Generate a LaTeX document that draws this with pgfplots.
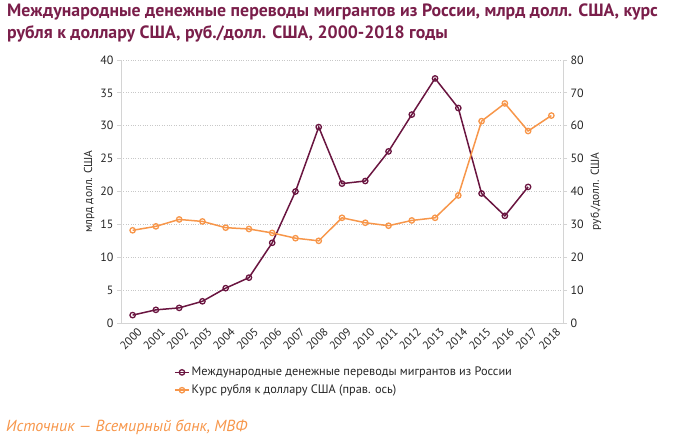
\documentclass[border=0pt]{standalone}
\usepackage{fontspec}
\setmainfont{PT Sans}
\usepackage{pgfplots}
\pgfplotsset{compat=1.18}
\definecolor{maroon}{HTML}{6A1540}
\definecolor{orng}{HTML}{F7964A}
\definecolor{titlec}{HTML}{7A1E4A}
\definecolor{gridc}{HTML}{C8C8C8}
\definecolor{axc}{HTML}{D4D4D4}
\definecolor{txt}{HTML}{262626}
\begin{document}
\begin{tikzpicture}[x=1pt,y=1pt]
\path[use as bounding box] (0,0) rectangle (680,-447);
\node[anchor=north west, align=left, text=titlec, font=\fontsize{17.8}{21.5}\selectfont\bfseries, inner sep=0pt] at (7,-4)
  {Международные денежные переводы мигрантов из России, млрд долл. США, курс\\рубля к доллару США, руб./долл. США, 2000-2018 годы};
\node[anchor=west, text=orng, font=\fontsize{16}{18}\selectfont\itshape, inner sep=0pt] at (6,-427)
  {Источник — Всемирный банк, МВФ};

\pgfplotsset{
  base/.style={
    scale only axis, width=442pt, height=263pt,
    at={(121pt,-323pt)}, anchor=south west,
    xmin=-0.5, xmax=18.5,
    ymin=0,
    tick label style={font=\fontsize{12}{14}\selectfont, text=txt},
    /pgf/number format/assume math mode=true,
    label style={font=\fontsize{11.5}{14}\selectfont, text=txt},
    axis line style={axc, line width=0.8pt},
    tick style={axc, line width=0.8pt},
    tick align=outside,
    major tick length=4pt,
  },
}

\begin{axis}[base,
  axis x line*=bottom, axis y line*=left,
  ymax=40, ytick={0,5,...,40},
  ymajorgrids, grid style={gridc, dotted, line width=0.8pt},
  xtick={0,...,18},
  xticklabels={2000,2001,2002,2003,2004,2005,2006,2007,2008,2009,2010,2011,2012,2013,2014,2015,2016,2017,2018},
  x tick label style={rotate=45, anchor=north east, inner sep=1pt, yshift=-2pt, xshift=4pt, font=\fontsize{11.5}{13}\selectfont},
  xtick style={draw=none},
  minor xtick={-0.5,0.5,...,18.5},
  minor tick length=4pt,
  minor x tick style={axc, line width=0.8pt},
  ylabel={млрд долл. США},
  ylabel shift=-1pt,
  legend style={at={(rel axis cs:0.12,-0.16)}, anchor=north west, draw=none, fill=none,
    font=\fontsize{12.3}{14}\selectfont, text=txt, cells={anchor=west}, row sep=3.5pt,
    inner sep=0pt},
  legend image code/.code={
    \draw[mark repeat=2,mark phase=2,#1] plot coordinates {(0pt,0pt) (7pt,0pt) (14pt,0pt)};},
]
\addplot[maroon, line width=1.5pt, mark=o, mark size=2.7pt, mark options={fill=white, line width=1.3pt}]
 coordinates {(0,1.2)(1,2.0)(2,2.3)(3,3.3)(4,5.3)(5,6.9)(6,12.2)(7,20.0)(8,29.8)(9,21.2)(10,21.6)(11,26.1)(12,31.7)(13,37.2)(14,32.7)(15,19.7)(16,16.3)(17,20.7)};
\addlegendentry{Международные денежные переводы мигрантов из России}
\addlegendimage{orng, line width=1.5pt, mark=o, mark size=2.7pt, mark options={fill=white, line width=1.3pt}}
\addlegendentry{Курс рубля к доллару США (прав. ось)}
\end{axis}

\begin{axis}[base,
  axis x line=none, axis y line*=right,
  ymax=80, ytick={0,10,...,80},
  ylabel={руб./долл. США},
]
\addplot[orng, line width=1.5pt, mark=o, mark size=2.7pt, mark options={fill=white, line width=1.3pt}]
 coordinates {(0,28.2)(1,29.4)(2,31.5)(3,30.9)(4,29.0)(5,28.6)(6,27.4)(7,25.8)(8,25.0)(9,32.0)(10,30.5)(11,29.6)(12,31.2)(13,32.0)(14,38.8)(15,61.4)(16,66.8)(17,58.4)(18,63.1)};
\end{axis}
\end{tikzpicture}
\end{document}
